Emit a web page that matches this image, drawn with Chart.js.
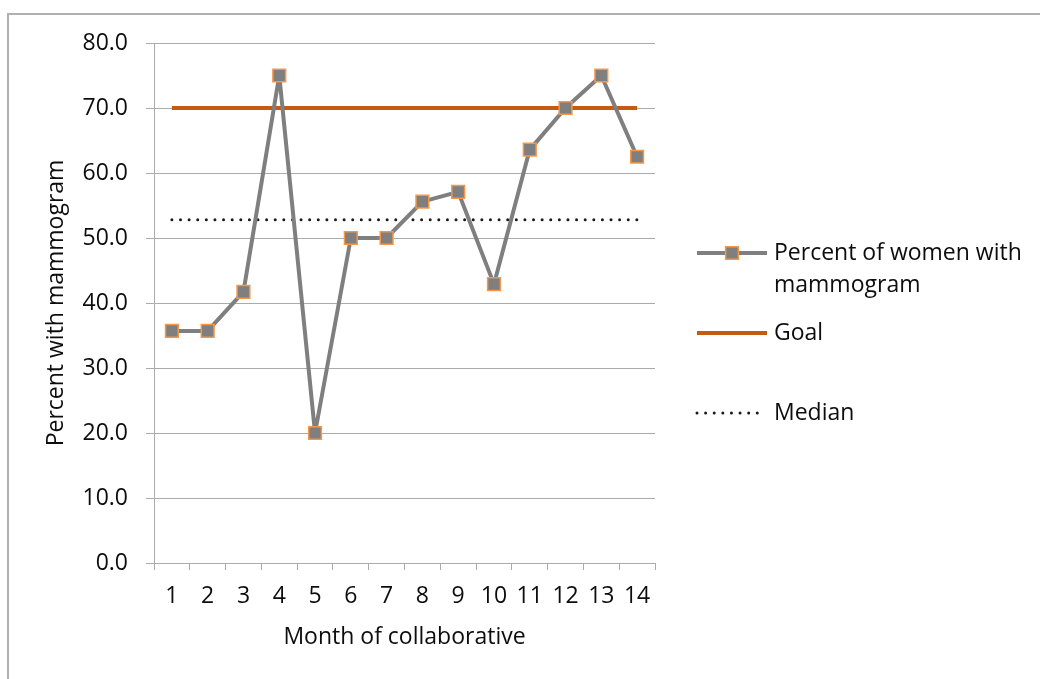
<!DOCTYPE html>
<html>
<head>
<meta charset="utf-8">
<title>Percent of women with mammogram</title>
<script src="https://cdn.jsdelivr.net/npm/chart.js@4.4.1/dist/chart.umd.min.js"></script>
<style>
    body { margin: 0; background: #fff; }
    #wrap { position: relative; width: 1040px; height: 679px; overflow: hidden; }
    #frame {
        position: absolute; left: 7px; top: 13px; width: 1100px; height: 700px;
        border-left: 2px solid #b0b0b0; border-top: 2px solid #b0b0b0;
    }
    #chart { position: absolute; left: 0; top: 0; }
</style>
</head>
<body>
<div id="wrap">
    <div id="frame"></div>
    <canvas id="chart" width="1040" height="679"></canvas>
</div>
<script>
// Monthly results of the collaborative
const months = ['1', '2', '3', '4', '5', '6', '7', '8', '9', '10', '11', '12', '13', '14'];
const pctWithMammogram = [35.7, 35.7, 41.7, 75.0, 20.0, 50.0, 50.0, 55.6, 57.1, 42.9, 63.6, 70.0, 75.0, 62.5];
const goal = [70.0, 70.0, 70.0, 70.0, 70.0, 70.0, 70.0, 70.0, 70.0, 70.0, 70.0, 70.0, 70.0, 70.0];
const median = [52.8, 52.8, 52.8, 52.8, 52.8, 52.8, 52.8, 52.8, 52.8, 52.8, 52.8, 52.8, 52.8, 52.8];
const yTicks = [0, 10, 20, 30, 40, 50, 60, 70, 80];

const FONT = "'Open Sans', sans-serif";
const FONT_SIZE = 23;
const TEXT = '#0d0d0d';
const GRID = '#ababab';

Chart.defaults.font.family = FONT;
Chart.defaults.font.size = FONT_SIZE;
Chart.defaults.color = TEXT;

// Legend at the right, drawn straight onto the canvas with each dataset's own style
const sideLegend = {
    id: 'sideLegend',
    afterDraw(chart, args, opts) {
        const ctx = chart.ctx;
        const x0 = opts.x, x1 = opts.x + opts.sampleWidth, tx = opts.textX;
        ctx.save();
        ctx.font = `${FONT_SIZE}px ${FONT}`;
        ctx.textBaseline = 'middle';
        ctx.textAlign = 'left';
        chart.data.datasets.forEach((ds, i) => {
            const y = opts.rows[i];
            ctx.save();
            ctx.strokeStyle = ds.borderColor;
            ctx.lineWidth = ds.borderWidth;
            ctx.lineCap = ds.borderCapStyle || 'butt';
            ctx.setLineDash(ds.borderDash || []);
            ctx.beginPath();
            ctx.moveTo(x0, y);
            ctx.lineTo(ds.borderDash ? x1 - 8 : x1, y);
            ctx.stroke();
            ctx.restore();
            if (ds.pointRadius > 0) {
                const s = ds.pointRadius * Math.SQRT1_2;
                const cx = (x0 + x1) / 2;
                ctx.fillStyle = ds.pointBackgroundColor;
                ctx.strokeStyle = ds.pointBorderColor;
                ctx.lineWidth = ds.pointBorderWidth;
                ctx.beginPath();
                ctx.rect(cx - s, y - s, 2 * s, 2 * s);
                ctx.fill();
                ctx.stroke();
            }
            // simple word wrap
            const words = ds.label.split(' ');
            const lines = [];
            let line = '';
            words.forEach(w => {
                const test = line ? line + ' ' + w : w;
                if (ctx.measureText(test).width > opts.maxWidth && line) {
                    lines.push(line);
                    line = w;
                } else {
                    line = test;
                }
            });
            lines.push(line);
            ctx.fillStyle = TEXT;
            lines.forEach((l, k) => ctx.fillText(l, tx, y + k * opts.lineHeight));
        });
        ctx.restore();
    }
};

new Chart(document.getElementById('chart'), {
    type: 'line',
    data: {
        labels: months,
        datasets: [{
            label: 'Percent of women with mammogram',
            data: pctWithMammogram,
            borderColor: '#7f7f7f',
            borderWidth: 4,
            borderJoinStyle: 'round',
            pointStyle: 'rect',
            pointRadius: 9,
            pointBackgroundColor: '#7f7f7f',
            pointBorderColor: '#f79646',
            pointBorderWidth: 1.5,
            tension: 0,
        }, {
            label: 'Goal',
            data: goal,
            borderColor: '#c55a11',
            borderWidth: 4,
            pointRadius: 0,
            tension: 0,
        }, {
            label: 'Median',
            data: median,
            borderColor: '#1a1a1a',
            borderWidth: 3,
            borderDash: [0.01, 8.6],
            borderCapStyle: 'round',
            pointRadius: 0,
            tension: 0,
        }]
    },
    options: {
        responsive: false,
        animation: false,
        layout: { padding: { top: 43, right: 385, bottom: 0, left: 0 } },
        plugins: {
            legend: { display: false },
            tooltip: { enabled: false },
            sideLegend: { x: 697, sampleWidth: 70, textX: 774, maxWidth: 262, lineHeight: 32, rows: [253, 333, 413] },
        },
        scales: {
            x: {
                offset: true,
                grid: { offset: true, drawOnChartArea: false, color: GRID, tickLength: 7 },
                border: { color: GRID, width: 1 },
                ticks: { padding: 13, color: TEXT, maxRotation: 0, autoSkip: false },
                title: { display: true, text: 'Month of collaborative', color: TEXT, padding: { top: 0, bottom: 28 } },
                afterFit: (scale) => { scale.height = 116; },
            },
            y: {
                min: yTicks[0],
                max: yTicks[yTicks.length - 1],
                afterBuildTicks: (scale) => { scale.ticks = yTicks.map(v => ({ value: v })); },
                grid: { color: GRID, tickLength: 8 },
                border: { color: GRID, width: 1 },
                ticks: { padding: 18, color: TEXT, callback: (v) => v.toFixed(1) },
                title: { display: true, text: 'Percent with mammogram', color: TEXT, padding: { top: 43, bottom: 0 } },
                afterFit: (scale) => { scale.width = 154; },
            }
        }
    },
    plugins: [sideLegend]
});
</script>
</body>
</html>
